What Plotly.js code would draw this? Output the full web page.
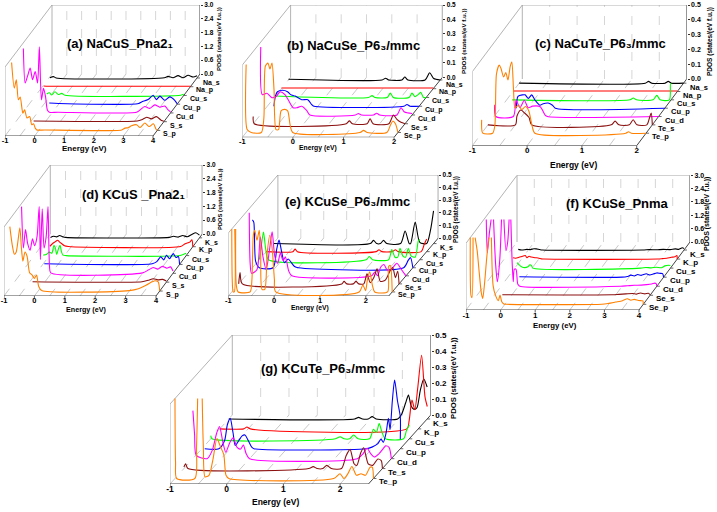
<!DOCTYPE html>
<html><head><meta charset="utf-8">
<script src="https://cdn.plot.ly/plotly-3.0.1.min.js"></script>
<style>html,body{margin:0;padding:0;background:#fff}#plot{width:717px;height:512px}</style>
</head><body><div id="plot"></div>
<script>
const W = 717, H = 512;
const TITLES = ['(a) NaCuS_Pna2\u2081','(b) NaCuSe_P6\u2083/mmc','(c) NaCuTe_P6\u2083/mmc','(d) KCuS _Pna2\u2081','(e) KCuSe_P6\u2083/mmc','(f) KCuSe_Pnma','(g) KCuTe_P6\u2083/mmc'];
const X_TITLE = 'Energy (eV)';
const Z_TITLE = 'PDOS (states/(eV f.u.))';
// series labels, front to back
const LABELS_A = ['S_p','S_s','Cu_d','Cu_p','Cu_s','Na_p','Na_s'];
const LABELS_B = ['Se_p','Se_s','Cu_d','Cu_p','Cu_s','Na_p','Na_s'];
const LABELS_C = ['Te_p','Te_s','Cu_d','Cu_p','Cu_s','Na_p','Na_s'];
const LABELS_D = ['S_p','S_s','Cu_d','Cu_p','Cu_s','K_p','K_s'];
const LABELS_E = ['Se_p','Se_s','Cu_d','Cu_p','Cu_s','K_p','K_s'];
const LABELS_F = ['Se_p','Se_s','Cu_d','Cu_p','Cu_s','K_p','K_s'];
const LABELS_G = ['Te_p','Te_s','Cu_d','Cu_p','Cu_s','K_p','K_s'];
const COLORS = ['#FF8000','#8B1010','#FF00FF','#0000FF','#00FF00','#FF0000','#000000'];

// PDOS series as [energy, value, energy, value, ...], front to back (null = off scale)
const panelA = [
 [-0.92,2.95,-0.83,1.84,-0.76,2.2,-0.69,1.33,-0.63,1.45,-0.54,0.75,-0.48,0.9,-0.40,0.54,-0.31,0.6,-0.24,0.25,-0.18,0.29,-0.12,0.1,-0.07,0.02,0.2,0.02,2.8,0.02,2.91,0.1,3.02,0.12,3.13,0.2,3.3,0.25,3.42,0.13,3.58,0.32,3.73,0.17,3.87,0.29,3.96,0.05,4.0,0.0],
 [-0.4,0.03,3.1,0.03,3.25,0.08,3.42,0.19,3.58,0.12,3.75,0.22,3.92,0.05,4.0,0.02],
 [-0.97,2.8,-0.91,1.3,-0.83,1.6,-0.74,1.95,-0.66,1.45,-0.57,1.8,-0.49,1.3,-0.43,2.88,-0.36,0.57,-0.29,1.07,-0.22,0.7,-0.16,0.13,-0.09,0.03,0.2,0.03,2.85,0.03,2.97,0.13,3.13,0.28,3.3,0.2,3.47,0.35,3.64,0.25,3.81,0.3,3.92,0.13,4.0,0.05],
 [-0.32,0.05,0.0,0.03,2.7,0.03,2.8,0.1,3.02,0.2,3.19,0.39,3.3,0.2,3.42,0.35,3.58,0.17,3.75,0.32,3.92,0.17,4.0,0.02],
 [-0.63,0.06,-0.54,0.12,-0.46,0.02,-0.35,0.16,-0.24,0.04,-0.12,0.09,-0.01,0.01,3.9,0.01,4.0,0.05],
 [-0.96,0.03,-0.8,0.02,4.0,0.02],
 [-0.97,0.01,-0.85,0.06,-0.76,0.0,2.9,0.01,3.02,0.07,3.19,0.01,3.36,0.1,3.53,0.01,3.7,0.12,3.87,0.04,4.0,0.1]
];
const panelB = [
 [-1.0,0.47,-0.98,0.02,-0.9,0.0,-0.7,0.0,-0.65,0.1,-0.62,0.46,-0.57,0.48,-0.53,0.44,-0.49,0.48,-0.45,0.3,-0.41,0.02,-0.36,0.02,-0.31,0.15,-0.24,0.16,-0.18,0.15,-0.13,0.05,-0.08,0.0,1.25,0.0,1.32,0.015,1.39,0.0,1.78,0.0,1.85,0.05,1.9,0.08,1.95,0.06,2.0,0.0],
 [-1.0,0.05,-0.98,0.0,0.84,0.0,0.9,0.02,0.96,0.0,1.25,0.0,1.31,0.035,1.37,0.0,1.68,0.0,1.77,0.06,1.84,0.03,1.92,0.01,2.0,0.0],
 [-0.99,0.47,-0.96,0.14,-0.87,0.15,-0.77,0.12,-0.68,0.13,-0.61,0.16,-0.51,0.14,-0.44,0.1,-0.35,0.05,-0.28,0.05,-0.18,0.06,-0.08,0.03,-0.02,0.0,0.88,0.0,0.94,0.01,1.0,0.0,1.24,0.0,1.3,0.012,1.36,0.0,1.7,0.0,1.78,0.05,1.85,0.02,2.0,0.01],
 [-0.87,0.0,-0.84,0.07,-0.8,0.1,-0.7,0.11,-0.6,0.1,-0.54,0.08,-0.45,0.07,-0.32,0.045,-0.2,0.045,-0.12,0.01,-0.08,0.0,1.7,0.0,1.76,0.012,1.82,0.0,2.0,0.0],
 [-1.0,0.01,0.86,0.0,0.93,0.013,0.99,0.0,1.23,0.0,1.29,0.03,1.35,0.0,1.66,0.0,1.72,0.03,1.78,0.005,1.84,0.02,1.89,0.035,1.95,0.0,2.0,0.0],
 [-1.0,0.005,2.0,0.005],
 [-1.0,0.005,0.85,0.0,0.92,0.012,0.98,0.0,1.24,0.0,1.3,0.02,1.36,0.0,1.7,0.0,1.79,0.05,1.87,0.01,2.0,0.0]
];
const panelC = [
 [-1.0,0.09,-0.98,0.0,-0.8,0.0,-0.76,0.05,-0.73,0.4,-0.68,0.46,-0.65,0.44,-0.6,0.38,-0.56,0.41,-0.52,0.36,-0.48,0.45,-0.45,0.48,-0.42,0.3,-0.39,0.17,-0.33,0.19,-0.27,0.16,-0.2,0.18,-0.14,0.15,-0.08,0.05,-0.03,0.0,1.63,0.0,1.68,0.01,1.73,0.0,2.0,0.0],
 [-1.0,0.0,-0.5,0.0,-0.47,0.06,-0.4,0.1,-0.33,0.08,-0.25,0.05,-0.2,0.0,1.25,0.0,1.32,0.025,1.39,0.0,1.58,0.0,1.65,0.035,1.72,0.0,1.9,0.0,1.95,0.05,1.98,0.08,2.0,0.0],
 [-0.99,0.08,-0.97,0.0,-0.65,0.0,-0.6,0.11,-0.53,0.06,-0.45,0.11,-0.38,0.06,-0.3,0.07,-0.16,0.066,-0.07,0.01,-0.03,0.0,2.0,0.0],
 [-0.71,0.0,-0.68,0.08,-0.6,0.09,-0.55,0.09,-0.49,0.066,-0.43,0.09,-0.37,0.055,-0.28,0.02,-0.22,0.03,-0.13,0.035,-0.05,0.02,0.0,0.0,2.0,0.0],
 [-0.9,0.0,1.25,0.0,1.31,0.012,1.37,0.0,1.67,0.0,1.74,0.03,1.8,0.0,1.97,0.0,1.99,0.11,2.0,0.11],
 [-1.0,0.003,2.0,0.003],
 [-1.0,0.0,1.3,0.0,1.36,0.012,1.42,0.0,1.66,0.0,1.72,0.012,1.78,0.0,2.0,0.0]
];
const panelD = [
 [-0.93,2.8,-0.85,2.0,-0.78,1.6,-0.72,1.7,-0.6,2.75,-0.55,1.9,-0.5,1.3,-0.43,1.7,-0.36,1.5,-0.28,0.8,-0.2,0.7,-0.12,0.55,-0.05,0.7,0.02,0.2,0.12,0.02,3.0,0.02,3.3,0.1,3.55,0.25,3.75,0.4,3.85,0.45,3.95,0.4,4.0,0.0],
 [-0.4,0.02,3.2,0.02,3.4,0.08,3.57,0.15,3.72,0.1,3.88,0.12,4.0,0.05],
 [-0.98,2.9,-0.92,1.1,-0.85,1.9,-0.78,1.3,-0.7,1.0,-0.62,1.5,-0.55,1.2,-0.47,1.6,-0.4,2.9,-0.36,0.6,-0.3,2.8,-0.24,1.1,-0.17,1.6,-0.11,2.9,-0.06,0.3,-0.02,0.02,3.0,0.02,3.2,0.15,3.35,0.25,3.5,0.18,3.65,0.3,3.8,0.22,3.92,0.28,4.0,0.1],
 [-0.45,0.03,3.1,0.03,3.25,0.12,3.38,0.33,3.48,0.2,3.57,0.4,3.67,0.25,3.79,0.47,3.88,0.3,3.96,0.35,4.0,0.0],
 [-0.7,0.02,-0.6,0.05,-0.5,0.15,-0.42,0.1,-0.35,0.45,-0.3,0.3,-0.26,0.05,-0.2,0.3,-0.15,0.45,-0.1,0.15,-0.05,0.02,0.05,0.0,3.8,0.0,3.9,0.05,4.0,0.1],
 [-0.7,0.02,-0.6,0.15,-0.52,0.22,-0.45,0.28,-0.38,0.2,-0.3,0.12,-0.22,0.04,-0.1,0.01,3.6,0.01,3.75,0.13,3.9,0.2,3.97,0.3,4.0,0.0],
 [-0.9,0.02,-0.8,0.07,-0.7,0.04,-0.6,0.1,-0.5,0.05,-0.4,0.02,3.0,0.02,3.15,0.07,3.3,0.03,3.45,0.1,3.6,0.05,3.75,0.15,3.88,0.22,4.0,0.12]
];
const panelE = [
 [-1.0,0.5,-0.99,0.1,-0.97,0.0,-0.945,0.0,-0.935,0.5,-0.93,null,-0.915,0.5,-0.9,0.05,-0.86,0.0,-0.6,0.0,-0.56,0.1,-0.53,0.45,-0.5,0.49,-0.45,0.41,-0.4,0.49,-0.37,0.3,-0.34,0.02,-0.28,0.02,-0.23,0.3,-0.17,0.45,-0.12,0.35,-0.07,0.1,-0.04,0.0,1.78,0.0,1.86,0.055,1.92,0.01,1.96,0.1,2.01,0.16,2.07,0.05,2.12,0.0,2.4,0.0,2.42,0.2,2.46,0.21,2.5,0.0],
 [-1.0,0.0,-0.97,0.09,-0.92,0.0,1.25,0.0,1.3,0.02,1.36,0.0,1.5,0.0,1.56,0.02,1.62,0.0,1.73,0.0,1.8,0.08,1.87,0.01,1.95,0.05,2.02,0.12,2.09,0.02,2.2,0.03,2.3,0.1,2.36,0.13,2.42,0.05,2.47,0.1,2.5,0.0],
 [-0.92,0.5,-0.9,0.1,-0.87,0.02,-0.75,0.05,-0.68,0.31,-0.62,0.15,-0.55,0.05,-0.48,0.2,-0.42,0.35,-0.36,0.15,-0.3,0.1,-0.24,0.18,-0.18,0.12,-0.13,0.15,-0.06,0.04,0.01,0.0,1.75,0.0,1.82,0.03,1.88,0.0,1.95,0.07,2.02,0.09,2.1,0.04,2.2,0.06,2.3,0.1,2.4,0.05,2.5,0.0],
 [-1.0,0.38,-0.97,0.36,-0.93,0.05,-0.85,0.0,-0.55,0.0,-0.47,0.15,-0.42,0.22,-0.36,0.12,-0.3,0.04,-0.22,0.07,-0.15,0.04,-0.08,0.01,0.0,0.0,2.3,0.0,2.4,0.06,2.45,0.08,2.5,0.0],
 [-1.0,0.0,-0.96,0.1,-0.91,0.22,-0.86,0.08,-0.8,0.0,1.33,0.0,1.4,0.025,1.47,0.0,1.82,0.0,1.89,0.08,1.96,0.02,2.02,0.02,2.07,0.09,2.13,0.03,2.19,0.02,2.25,0.09,2.31,0.03,2.4,0.02,2.47,0.15,2.5,0.16],
 [-1.0,0.0,-0.42,0.0,-0.37,0.02,-0.32,0.0,1.4,0.0,1.46,0.015,1.52,0.0,1.75,0.0,1.82,0.015,1.88,0.0,2.38,0.0,2.45,0.06,2.5,0.1],
 [-1.0,0.0,1.12,0.0,1.19,0.025,1.26,0.0,1.34,0.0,1.41,0.025,1.48,0.0,1.78,0.0,1.88,0.1,1.97,0.0,2.0,0.0,2.1,0.17,2.2,0.01,2.35,0.0,2.43,0.1,2.5,0.26]
];
const panelF = [
 [-1.0,3.0,-0.98,0.4,-0.95,0.3,-0.92,3.0,-0.89,null,-0.86,3.0,-0.8,2.4,-0.74,1.4,-0.68,0.5,-0.64,0.26,-0.59,0.9,-0.53,2.0,-0.47,3.0,-0.43,null,-0.39,3.0,-0.34,0.84,-0.27,0.4,-0.19,0.16,-0.14,0.41,-0.09,0.11,-0.03,0.01,0.05,0.0,2.8,0.0,3.0,0.04,3.2,0.1,3.4,0.16,3.54,0.25,3.64,0.18,3.74,0.22,3.86,0.17,3.95,0.16,3.99,0.15,4.0,0.0],
 [-0.27,0.02,2.9,0.02,3.1,0.04,3.3,0.06,3.5,0.08,3.6,0.05,3.72,0.1,3.85,0.06,3.95,0.09,4.0,0.03],
 [-0.93,3.0,-0.9,1.5,-0.84,2.4,-0.79,3.0,-0.76,null,-0.72,3.0,-0.66,1.0,-0.61,0.2,-0.54,1.2,-0.49,3.0,-0.46,null,-0.42,3.0,-0.36,1.6,-0.31,2.0,-0.27,3.0,-0.25,null,-0.22,3.0,-0.18,1.0,-0.15,0.2,-0.12,0.76,-0.07,0.76,-0.02,0.1,0.04,0.0,2.95,0.0,3.15,0.02,3.35,0.04,3.55,0.05,3.7,0.07,3.85,0.1,3.94,0.14,3.98,0.12,4.0,0.0],
 [-0.8,0.16,-0.77,0.12,-0.76,null,-0.17,0.02,2.8,0.0,2.95,0.03,3.05,0.09,3.15,0.05,3.25,0.12,3.35,0.08,3.5,0.15,3.6,0.1,3.7,0.14,3.8,0.19,3.9,0.17,3.97,0.16,4.0,0.0],
 [-0.43,0.25,-0.37,0.15,-0.29,0.05,-0.21,0.02,-0.12,0.06,-0.06,0.15,-0.01,0.1,0.02,0.0,3.14,0.0,3.29,0.03,3.44,0.01,3.59,0.04,3.74,0.02,3.84,0.1,3.94,0.13,4.0,0.12],
 [-0.75,0.06,-0.67,0.04,-0.57,0.08,-0.47,0.13,-0.39,0.16,-0.34,0.06,-0.28,0.13,-0.22,0.09,-0.11,0.06,-0.02,0.05,0.08,0.01,0.15,0.0,3.43,0.0,3.58,0.02,3.7,0.035,3.83,0.08,3.93,0.1,3.99,0.16,4.0,0.0],
 [-0.79,0.03,-0.69,0.0,-0.54,0.03,-0.44,0.02,-0.34,0.06,-0.27,0.05,-0.17,0.02,-0.09,0.0,2.8,0.0,3.0,0.02,3.2,0.01,3.4,0.03,3.6,0.02,3.75,0.05,3.85,0.03,3.95,0.1,4.0,0.07]
];
const panelG = [
 [-1.0,0.5,-0.99,0.1,-0.97,0.0,-0.65,0.0,-0.62,0.2,-0.6,0.5,-0.59,null,-0.52,0.5,-0.5,0.2,-0.47,0.01,-0.4,0.02,-0.33,0.12,-0.26,0.25,-0.2,0.2,-0.14,0.15,-0.1,0.02,-0.05,0.0,1.8,0.0,1.91,0.03,1.98,0.0,2.05,0.03,2.12,0.075,2.2,0.02,2.28,0.03,2.36,0.02,2.44,0.07,2.48,0.07,2.5,0.0],
 [-1.0,0.01,-0.97,0.03,-0.93,0.0,1.2,0.0,1.28,0.012,1.35,0.0,1.45,0.0,1.52,0.02,1.6,0.0,1.78,0.0,1.86,0.08,1.93,0.12,2.0,0.03,2.05,0.02,2.12,0.1,2.17,0.13,2.25,0.03,2.33,0.02,2.42,0.06,2.48,0.05,2.5,0.0],
 [-1.0,0.3,-0.97,0.15,-0.94,0.02,-0.75,0.0,-0.66,0.05,-0.58,0.16,-0.53,0.2,-0.47,0.1,-0.42,0.04,-0.35,0.1,-0.29,0.13,-0.22,0.07,-0.16,0.06,-0.11,0.085,-0.06,0.03,0.0,0.0,1.9,0.0,2.0,0.03,2.07,0.065,2.14,0.03,2.2,0.01,2.28,0.03,2.35,0.06,2.4,0.08,2.46,0.07,2.5,0.0],
 [-0.95,0.0,-0.7,0.0,-0.6,0.05,-0.55,0.15,-0.5,0.19,-0.45,0.1,-0.41,0.02,-0.35,0.05,-0.29,0.08,-0.24,0.086,-0.18,0.05,-0.12,0.01,-0.08,0.0,1.9,0.0,2.0,0.01,2.1,0.03,2.16,0.06,2.2,0.04,2.25,0.1,2.29,0.19,2.32,0.12,2.36,0.3,2.4,0.43,2.45,0.3,2.5,0.2,2.5,0.06],
 [-1.0,0.02,-0.98,0.0,1.2,0.0,1.28,0.013,1.35,0.0,1.45,0.0,1.52,0.024,1.6,0.0,1.8,0.0,1.87,0.06,1.92,0.04,1.97,0.095,2.02,0.04,2.08,0.0,2.4,0.0,2.45,0.05,2.5,0.086],
 [-1.0,0.0,-0.58,0.0,-0.52,0.012,-0.46,0.0,2.3,0.0,2.34,0.05,2.39,0.18,2.44,0.12,2.49,0.25,2.56,0.46,2.62,0.2,2.66,0.14],
 [-1.0,0.0,1.22,0.0,1.29,0.01,1.36,0.0,1.46,0.0,1.53,0.015,1.6,0.0,1.98,0.0,2.05,0.03,2.12,0.1,2.17,0.15,2.22,0.08,2.27,0.06,2.32,0.07,2.38,0.18,2.44,0.25,2.5,0.2]
];
const SERIES = [panelA, panelB, panelC, panelD, panelE, panelF, panelG];
const LABELS = [LABELS_A, LABELS_B, LABELS_C, LABELS_D, LABELS_E, LABELS_F, LABELS_G];

// panel geometry (pixels) and styling
const GEO = [
 {x0:5,y0:136,pxE:29.6,emin:-1,emax:4,ddx:47,ddy:-62,zpx:69,zmax:3,zstep:0.6,fs:0.09,fd:0.141,tx:120,ty:43,ex:84,ey:148,px:219,py:39,lf:7,tf:7.5,ef:8,zf:6.5,pf:6},
 {x0:242.3,y0:137.3,pxE:50.6,emin:-1,emax:2,ddx:48.3,ddy:-60,zpx:72.3,zmax:0.5,zstep:0.1,fs:0.08,fd:0.146,tx:353,ty:45,ex:318,ey:148,px:463,py:41,lf:7,tf:7.5,ef:6.8,zf:6.5,pf:6.2},
 {x0:472.3,y0:145.7,pxE:54.8,emin:-1,emax:2,ddx:50,ddy:-66.7,zpx:74,zmax:0.5,zstep:0.1,fs:0.1875,fd:0.125,tx:600,ty:43,ex:573,ey:165,px:710,py:42,lf:7.5,tf:8,ef:8.5,zf:7,pf:6.5},
 {x0:4,y0:296,pxE:30.4,emin:-1,emax:4,ddx:46.3,ddy:-62,zpx:69,zmax:3,zstep:0.6,fs:0.08,fd:0.143,tx:133,ty:194,ex:86,ey:309,px:220,py:199,lf:7,tf:7.5,ef:7.2,zf:6.5,pf:5.8},
 {x0:228.3,y0:296,pxE:45.83,emin:-1,emax:2.5,ddx:49.6,ddy:-58,zpx:63,zmax:0.5,zstep:0.1,fs:0.07,fd:0.139,tx:347,ty:201,ex:310,ey:308,px:456,py:210,lf:7,tf:7.5,ef:6.8,zf:6.5,pf:6.3},
 {x0:466,y0:310,pxE:34.6,emin:-1,emax:4,ddx:51,ddy:-68,zpx:66.7,zmax:3,zstep:0.6,fs:0.084,fd:0.133,tx:617,ty:203,ex:555,ey:325,px:707,py:214,lf:8,tf:8,ef:7.8,zf:7,pf:7},
 {x0:170,y0:484,pxE:56.7,emin:-1,emax:2.5,ddx:62.3,ddy:-69,zpx:80,zmax:0.5,zstep:0.1,fs:0.08,fd:0.1437,tx:323,ty:368,ex:275,ey:502,px:453,py:378,lf:8,tf:8.5,ef:8.5,zf:8,pf:7.7}
];

const FONT = 'Liberation Sans, Arial, DejaVu Sans, sans-serif';
const layout = {width:W,height:H,margin:{l:0,r:0,t:0,b:0},paper_bgcolor:'#fff',plot_bgcolor:'rgba(0,0,0,0)',
  showlegend:false,font:{family:FONT,color:'#000'},shapes:[],annotations:[]};
const traces = [];
const axName = (s,n)=> n===1 ? s+'axis' : s+'axis'+n;
const axId = (s,n)=> n===1 ? s : s+n;

GEO.forEach((g,p)=>{
  const xa=2*p+1, xe=2*p+2, ya=2*p+1, yz=2*p+2;
  const xs=axId('x',xa), ys=axId('y',ya), xes=axId('x',xe), yzs=axId('y',yz);
  const DX=g.ddx/g.pxE, pzu=g.zpx/g.zmax, DZ=-g.ddy/pzu;
  const xL=g.x0, xR=g.x0+(g.emax-g.emin)*g.pxE, xB=xR+g.ddx;
  const yF=g.y0, yBk=g.y0+g.ddy, yT=yBk-g.zpx;
  layout[axName('x',xa)]={domain:[xL/W,xB/W],range:[g.emin,g.emax+DX],visible:false,anchor:ys,fixedrange:true};
  layout[axName('y',ya)]={domain:[(H-yF)/H,(H-yT)/H],range:[0,g.zmax+DZ],visible:false,anchor:xs,fixedrange:true};
  const et=[]; for(let e=Math.ceil(g.emin); e<=g.emax+1e-9; e++) et.push(e);
  layout[axName('x',xe)]={domain:[xL/W,xR/W],range:[g.emin,g.emax],anchor:'free',position:(H-yF+1.5)/H,tickvals:et,ticktext:et.map(String),
    ticks:'',showgrid:false,zeroline:false,showline:false,fixedrange:true,
    tickfont:{size:g.tf,weight:'bold',family:FONT}};
  const zt=[]; const nz=Math.round(g.zmax/g.zstep); for(let i=0;i<=nz;i++) zt.push(+(i*g.zstep).toFixed(2));
  layout[axName('y',yz)]={domain:[(H-yBk)/H,(H-yT)/H],range:[-1e-6,g.zmax+1e-6],anchor:xs,side:'right',tickvals:zt,tickformat:'.1f',
    ticks:'outside',ticklen:2,tickcolor:'#333',showgrid:false,zeroline:false,showline:false,fixedrange:true,
    tickfont:{size:g.zf,weight:'bold',family:FONT}};
  // invisible anchor traces so the energy and PDOS axes are drawn
  traces.push({type:'scatter',mode:'markers',x:[g.emin],y:[0],xaxis:xes,yaxis:ys,marker:{opacity:0,size:1},hoverinfo:'skip'});
  traces.push({type:'scatter',mode:'markers',x:[g.emax+DX],y:[0],xaxis:xs,yaxis:yzs,marker:{opacity:0,size:1},hoverinfo:'skip'});

  const L=(x0,y0,x1,y1,c,dash,w)=>layout.shapes.push({type:'line',xref:xs,yref:ys,x0,y0,x1,y1,layer:'below',line:{color:c,width:w||0.8,dash:dash||'solid'}});
  for(let e=g.emin; e<g.emax-1e-9; e+=0.5){
    L(e,0,e+DX,DZ,'#b0b0b0','dash',0.7);
    if(e>g.emin+1e-9) L(e+DX,DZ,e+DX,DZ+g.zmax,'#c4c4c4','dash',0.7);
  }
  L(g.emin,0,g.emin,g.zmax,'#a0a0a0');
  L(g.emin,g.zmax,g.emin+DX,g.zmax+DZ,'#a0a0a0');
  L(g.emin+DX,DZ,g.emin+DX,g.zmax+DZ,'#a0a0a0');
  L(g.emin+DX,g.zmax+DZ,g.emax+DX,g.zmax+DZ,'#a0a0a0');
  L(g.emin,0,g.emax,0,'#444',null,1);
  L(g.emax,0,g.emax+DX,DZ,'#444',null,1);
  L(g.emax+DX,DZ,g.emax+DX,DZ+g.zmax,'#444',null,1);
  // energy tick marks just below the front edge
  et.forEach(e=>layout.shapes.push({type:'line',xref:xs,yref:'paper',x0:e,x1:e,y0:(H-yF)/H,y1:(H-yF-2.5)/H,line:{color:'#333',width:0.8}}));

  const data=SERIES[p], labs=LABELS[p];
  for(let k=data.length-1;k>=0;k--){
    const f=g.fs+k*g.fd, arr=data[k];
    const X=[],Y=[];
    for(let i=0;i<arr.length;i+=2){ X.push(arr[i]+f*DX); Y.push(arr[i+1]===null?null:arr[i+1]+f*DZ); }
    traces.push({type:'scatter',mode:'lines',x:X,y:Y,xaxis:xs,yaxis:ys,hoverinfo:'skip',
      line:{color:COLORS[k],width:1.1,shape:'spline',smoothing:0.7}});
    L(g.emax+f*DX,f*DZ,g.emax+f*DX+3/g.pxE,f*DZ,'#444',null,0.8);
    layout.annotations.push({xref:xs,yref:ys,x:g.emax+f*DX,y:f*DZ,text:labs[k],showarrow:false,xanchor:'left',yanchor:'middle',
      xshift:4,yshift:(k===data.length-1)?-4.3:-3.5,font:{size:g.lf,weight:'bold',family:FONT,color:'#000'}});
  }
  layout.annotations.push({xref:'paper',yref:'paper',x:g.tx/W,y:1-g.ty/H,text:TITLES[p],showarrow:false,xanchor:'center',yanchor:'middle',
    font:{size:13,weight:'bold',family:FONT,color:'#000'}});
  layout.annotations.push({xref:'paper',yref:'paper',x:g.ex/W,y:1-g.ey/H,text:X_TITLE,showarrow:false,xanchor:'center',yanchor:'middle',
    font:{size:g.ef,weight:'bold',family:FONT,color:'#000'}});
  layout.annotations.push({xref:'paper',yref:'paper',x:g.px/W,y:1-g.py/H,text:Z_TITLE,textangle:-90,showarrow:false,xanchor:'center',yanchor:'middle',
    font:{size:g.pf,weight:'bold',family:FONT,color:'#000'}});
});

Plotly.newPlot('plot',traces,layout,{staticPlot:true,displayModeBar:false});
</script></body></html>
